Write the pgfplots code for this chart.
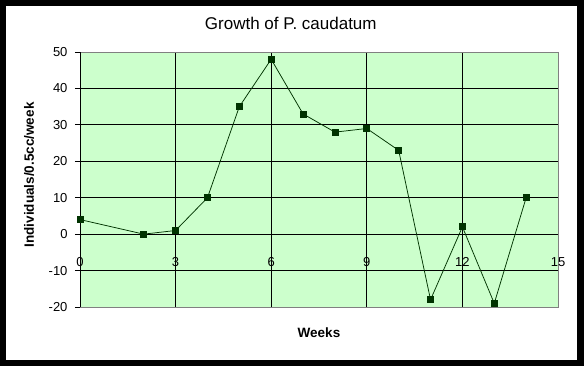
\documentclass[border=0pt]{standalone}
\usepackage{pgfplots}
\pgfplotsset{compat=1.18}
\usepackage{fontspec}
\setmainfont{Liberation Sans}
\definecolor{plotbg}{HTML}{CCFFCC}
\definecolor{series}{HTML}{003300}
\definecolor{frame}{HTML}{808080}
\begin{document}
\begin{tikzpicture}
\fill[black] (0bp,0bp) rectangle (584bp,366bp);
\fill[white] (6bp,6bp) rectangle (577bp,360bp);
\begin{axis}[
  at={(80bp,59bp)}, anchor=south west,
  scale only axis, width=478bp, height=255bp,
  xmin=0, xmax=15, ymin=-20, ymax=50,
  xtick={0,3,6,9,12,15}, ytick={-20,-10,0,10,20,30,40,50},
  grid=major, major grid style={black, line width=0.75bp},
  axis background/.style={fill=plotbg},
  axis line style={frame, line width=0.75bp},
  tick align=outside, ytick pos=left, xtick pos=bottom,
  major tick length=5bp,
  xtick style={draw=none},
  ytick style={black, line width=0.75bp},
  /pgf/number format/assume math mode=true,
  tick label style={font=\fontsize{13bp}{15bp}\selectfont},
  xticklabel style={anchor=center, yshift=50bp},
  yticklabel style={xshift=-4bp},
  title={Growth of P. caudatum},
  title style={at={(axis description cs:0.441,1.090)}, anchor=center, font=\fontsize{17bp}{20bp}\selectfont},
  xlabel={Weeks},
  xlabel style={at={(axis description cs:0.5,-0.102)}, anchor=center, font=\bfseries\fontsize{13.5bp}{16bp}\selectfont},
  ylabel={Individuals/0.5cc/week},
  ylabel style={at={(axis description cs:-0.1067,0.518)}, anchor=center, rotate=0, font=\bfseries\fontsize{13.5bp}{16bp}\selectfont},
]
\draw[black, line width=0.75bp] (axis cs:0,-20) -- (axis cs:0,50);
\addplot[series, line width=0.75bp, mark=square*, mark size=3bp, mark options={fill=series, draw=series}] coordinates {
(0,4) (2,0) (3,1) (4,10) (5,35) (6,48) (7,33) (8,28) (9,29) (10,23) (11,-18) (12,2) (13,-19) (14,10)
};
\end{axis}
\end{tikzpicture}
\end{document}
